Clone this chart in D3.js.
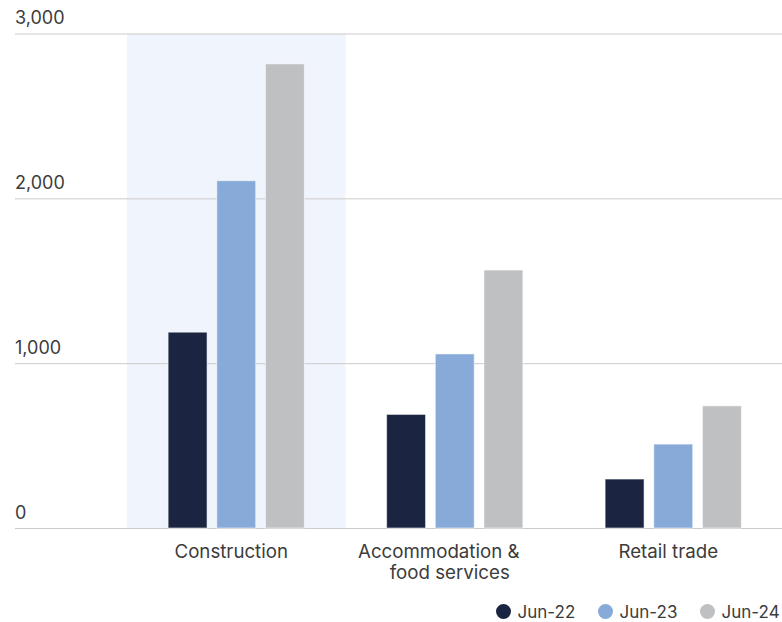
<!DOCTYPE html>
<html>
<head>
<meta charset="utf-8">
<script src="https://cdn.jsdelivr.net/npm/d3@7"></script>
<style>
  html, body { margin: 0; padding: 0; background: #fff; }
  svg { display: block; }
  text { font-family: Inter, "Noto Sans", sans-serif; fill: #3c3c3c; }
</style>
</head>
<body>
<script>
// Categories (each may wrap onto several lines)
const categories = ["Construction", "Accommodation & food services", "Retail trade"];
const categoryLines = [["Construction"], ["Accommodation &", "food services"], ["Retail trade"]];
const series = ["Jun-22", "Jun-23", "Jun-24"];
const seriesColors = ["#1b2541", "#88aad8", "#bfc0c2"];

// Values per series, in category order
const jun22 = [1188, 689, 297];
const jun23 = [2107, 1056, 509];
const jun24 = [2816, 1565, 741];
const seriesValues = [jun22, jun23, jun24];

const yTicks = [0, 1000, 2000, 3000];
const highlighted = "Construction";

const W = 782, H = 622;
const svg = d3.select("body").append("svg").attr("width", W).attr("height", H);

const x = d3.scaleBand().domain(categories).range([127, 782.5]).padding(0);
const y = d3.scaleLinear().domain([0, 3000]).range([528, 33.5]);
const inner = d3.scaleBand().domain(series).range([-73, 73]).paddingInner(0.2).paddingOuter(0.1);
const color = d3.scaleOrdinal().domain(series).range(seriesColors);

// Highlight band behind the first category
svg.append("rect")
  .attr("x", x(highlighted))
  .attr("y", y(3000))
  .attr("width", x.bandwidth())
  .attr("height", y(0) - y(3000))
  .attr("fill", "#f0f4fc");

// Gridlines and y tick labels
const yAxis = d3.axisLeft(y).tickValues(yTicks).tickSize(-(W - 15)).tickFormat(d3.format(","));
const gy = svg.append("g").attr("transform", "translate(15,0)").call(yAxis);
gy.select(".domain").remove();
gy.selectAll(".tick line").attr("stroke", "#cbcbcb").attr("stroke-width", 1)
  .attr("x1", 0).attr("x2", W - 15);
gy.selectAll(".tick text")
  .attr("x", 0).attr("dy", null).attr("y", -10)
  .attr("text-anchor", "start")
  .style("font-size", "18px")
  .style("font-family", "Inter, sans-serif")
  .attr("fill", "#3c3c3c");

// Bars
const rows = categories.map((c, i) => ({ cat: c, vals: series.map((s, j) => ({ s, v: seriesValues[j][i] })) }));
const groups = svg.append("g").selectAll("g").data(rows).join("g")
  .attr("transform", d => `translate(${x(d.cat) + x.bandwidth() / 2},0)`);
groups.selectAll("rect").data(d => d.vals).join("rect")
  .attr("x", d => inner(d.s))
  .attr("width", inner.bandwidth())
  .attr("y", d => y(d.v))
  .attr("height", d => y(0) - y(d.v))
  .attr("fill", d => color(d.s))
  .attr("stroke", "#ffffff")
  .attr("stroke-opacity", 0.55)
  .attr("stroke-width", 1);

// Category labels; a wrapped first line keeps its trailing gap
const lab = svg.append("g").selectAll("text").data(categories).join("text")
  .attr("text-anchor", "middle")
  .attr("transform", d => `translate(${x(d) + x.bandwidth() / 2 - 5},558)`)
  .style("font-size", "18.7px");
lab.each(function(d, i) {
  const t = d3.select(this);
  const lines = categoryLines[i];
  lines.forEach((line, k) => {
    t.append("tspan")
      .attr("x", lines.length > 1 && k === 0 ? -11 : 0)
      .attr("y", k * 21)
      .text(line);
  });
});

// Legend
const legend = svg.append("g").attr("transform", "translate(503.5,611.5)");
const item = legend.selectAll("g").data(series).join("g")
  .attr("transform", (d, i) => `translate(${i * 102},0)`);
item.append("circle").attr("r", 7.5).attr("fill", d => color(d));
item.append("text").attr("x", 14).attr("y", 6).style("font-size", "17px").text(d => d);
</script>
</body>
</html>
